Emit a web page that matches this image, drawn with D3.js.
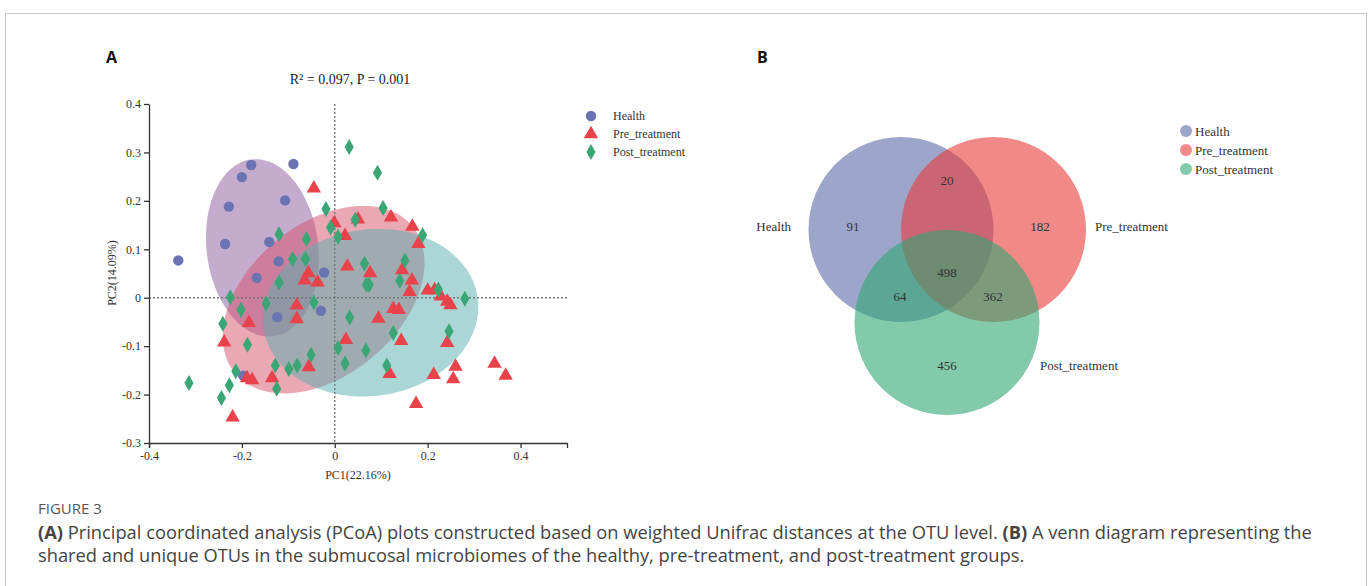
<!DOCTYPE html>
<html>
  <head>
    <meta charset="utf-8">
    <title>Figure 3</title>
    <style>
      body { margin: 0; background: #fff; }
    </style>
  </head>
  <body>
    <script src="https://d3js.org/d3.v7.min.js"></script>
    <svg id="fig" width="1372" height="586"></svg>
    <script>

      // ---- data (panel A: PCoA scores) ----
      var healthPts = [[-0.337,0.077],[-0.180,0.274],[-0.089,0.276],[-0.200,0.249],[-0.228,0.188],
        [-0.107,0.201],[-0.236,0.111],[-0.141,0.115],[-0.121,0.075],[-0.168,0.041],[-0.023,0.052],
        [-0.124,-0.040],[-0.030,-0.027],[-0.197,-0.161]];

      var prePts = [[-0.045,0.226],[-0.001,0.154],[0.022,0.128],[0.027,0.065],[-0.057,0.051],[-0.065,0.036],
        [-0.037,0.032],[0.050,0.162],[0.121,0.166],[0.167,0.147],[0.180,0.111],[0.076,0.051],[0.145,0.057],
        [0.166,0.036],[0.161,0.012],[0.200,0.015],[0.215,0.016],[0.228,0.003],[0.242,-0.008],[0.249,-0.015],
        [0.126,-0.023],[0.138,-0.025],[0.094,-0.043],[0.024,-0.087],[0.143,-0.089],[0.242,-0.093],
        [0.260,-0.142],[0.344,-0.136],[0.368,-0.161],[0.213,-0.159],[0.255,-0.168],[0.118,-0.157],
        [0.175,-0.219],[-0.082,-0.016],[-0.082,-0.044],[-0.185,-0.052],[-0.238,-0.092],[-0.056,-0.143],
        [-0.135,-0.166],[-0.189,-0.166],[-0.178,-0.170],[-0.220,-0.247]];

      var postPts = [[0.031,0.311],[-0.019,0.183],[-0.009,0.145],[0.007,0.126],[-0.120,0.131],[-0.061,0.121],
        [-0.091,0.080],[-0.063,0.080],[-0.120,0.031],[0.092,0.258],[0.104,0.185],[0.044,0.161],[0.189,0.129],
        [0.151,0.077],[0.064,0.070],[0.140,0.035],[0.068,0.027],[0.074,0.027],[0.223,0.017],[0.280,-0.002],
        [0.032,-0.041],[0.246,-0.069],[0.126,-0.073],[0.007,-0.104],[0.067,-0.109],[0.022,-0.136],
        [0.112,-0.140],[-0.225,0.001],[-0.202,-0.025],[-0.148,-0.012],[-0.045,-0.010],[-0.241,-0.054],
        [-0.188,-0.097],[-0.051,-0.118],[-0.128,-0.140],[-0.099,-0.147],[-0.081,-0.140],[-0.213,-0.152],
        [-0.314,-0.176],[-0.227,-0.181],[-0.244,-0.207],[-0.125,-0.188]];

      // confidence ellipses: centre, semi-axes (x units, y units), rotation in degrees
      var groups = ["Health", "Pre_treatment", "Post_treatment"];
      var ellCenters = [[-0.156, 0.103], [-0.024, -0.004], [0.077, -0.031]];
      var ellRadii = [[0.120, 0.184], [0.248, 0.156], [0.233, 0.172]];
      var ellAngles = [-7, -39.7, -8];

      var xTicks = [-0.4, -0.2, 0, 0.2, 0.4];
      var yTicks = [-0.3, -0.2, -0.1, 0, 0.1, 0.2, 0.3, 0.4];
      var statText = "R\u00B2 = 0.097, P = 0.001";

      // ---- data (panel B: venn counts) ----
      var vennSets = ["Health", "Pre_treatment", "Post_treatment"];
      var vennRegions = ["H", "P", "T", "HP", "HT", "PT", "HPT"];
      var vennCounts = [91, 182, 456, 20, 64, 362, 498];

      var svg = d3.select("#fig");
      var serif = "'Liberation Serif', 'Times New Roman', serif";

      // frame
      svg.append("rect").attr("x", 5.5).attr("y", 13.5).attr("width", 1361).attr("height", 620)
        .attr("fill", "none").attr("stroke", "#c8c8c8");

      // panel letters
      svg.append("text").attr("x", 106).attr("y", 63).text("A")
        .style("font", "bold 16px 'Open Sans', sans-serif").attr("fill", "#111");
      svg.append("text").attr("x", 757).attr("y", 63).text("B")
        .style("font", "bold 16px 'Open Sans', sans-serif").attr("fill", "#111");

      // ===== Panel A =====
      var x = d3.scaleLinear().domain([-0.4, 0.5]).range([149, 567]);
      var y = d3.scaleLinear().domain([-0.3, 0.4]).range([443, 104]);
      var fmt = function (d) { return d === 0 ? "0" : d.toFixed(1); };

      var pColors = ["#6b74b2", "#e8434a", "#3aa676"];
      var ellFill = ["#8c5a9e", "#d6506a", "#55afae"];

      var gA = svg.append("g");

      // ellipses
      var ellLine = d3.line();
      groups.forEach(function (g, i) {
        var cx = x(ellCenters[i][0]), cy = y(ellCenters[i][1]);
        var rx = x(ellRadii[i][0]) - x(0), ry = y(0) - y(ellRadii[i][1]);
        var a = ellAngles[i] * Math.PI / 180;
        var pts = d3.range(0, 361, 3).map(function (t) {
          var r = t * Math.PI / 180;
          var ex = rx * Math.cos(r), ey = ry * Math.sin(r);
          return [cx + ex * Math.cos(a) - ey * Math.sin(a), cy + ex * Math.sin(a) + ey * Math.cos(a)];
        });
        gA.append("path").attr("d", ellLine(pts) + "Z")
          .attr("fill", ellFill[i]).attr("fill-opacity", 0.5);
      });

      // reference lines at zero
      gA.append("line").attr("x1", x(0)).attr("x2", x(0)).attr("y1", y(0.4)).attr("y2", y(-0.3))
        .attr("stroke", "#777").attr("stroke-width", 1.4).attr("stroke-dasharray", "2,2");
      gA.append("line").attr("x1", x(-0.4)).attr("x2", x(0.5)).attr("y1", y(0)).attr("y2", y(0))
        .attr("stroke", "#777").attr("stroke-width", 1.4).attr("stroke-dasharray", "2,2");

      // points
      var symCircle = d3.symbol().type(d3.symbolCircle).size(85);
      var symTri = d3.symbol().type(d3.symbolTriangle).size(90);
      var diamond = "M0,-8L4.6,0L0,8L-4.6,0Z";

      gA.selectAll(".hp").data(healthPts).enter().append("path")
        .attr("d", symCircle).attr("fill", pColors[0])
        .attr("transform", function (d) { return "translate(" + x(d[0]) + "," + y(d[1]) + ")"; });
      gA.selectAll(".pp").data(prePts).enter().append("path")
        .attr("d", symTri).attr("fill", pColors[1])
        .attr("transform", function (d) { return "translate(" + x(d[0]) + "," + y(d[1]) + ")"; });
      gA.selectAll(".tp").data(postPts).enter().append("path")
        .attr("d", diamond).attr("fill", pColors[2])
        .attr("transform", function (d) { return "translate(" + x(d[0]) + "," + y(d[1]) + ")"; });

      // axes
      var xAxis = gA.append("g").attr("transform", "translate(0,443)")
        .call(d3.axisBottom(x).tickValues(xTicks).tickFormat(fmt).tickSize(5).tickSizeOuter(5));
      var yAxis = gA.append("g").attr("transform", "translate(149,0)")
        .call(d3.axisLeft(y).tickValues(yTicks).tickFormat(fmt).tickSize(5).tickSizeOuter(0));
      [xAxis, yAxis].forEach(function (ax) {
        ax.selectAll("path, line").attr("stroke", "#333").attr("stroke-width", 1.3);
        ax.selectAll("text").style("font", "12px " + serif).attr("fill", "#333");
      });

      gA.append("text").attr("x", 358).attr("y", 479).attr("text-anchor", "middle")
        .style("font", "12px " + serif).attr("fill", "#333").text("PC1(22.16%)");
      gA.append("text").attr("transform", "translate(116,273) rotate(-90)").attr("text-anchor", "middle")
        .style("font", "12px " + serif).attr("fill", "#333").text("PC2(14.09%)");
      gA.append("text").attr("x", 350).attr("y", 84).attr("text-anchor", "middle")
        .style("font", "14px " + serif).attr("fill", "#222").text(statText);

      // legend A
      var legA = gA.append("g");
      groups.forEach(function (g, i) {
        var ly = 116 + i * 18;
        var sym = i === 0 ? symCircle() : (i === 1 ? symTri() : diamond);
        legA.append("path").attr("d", sym).attr("fill", pColors[i])
          .attr("transform", "translate(591," + ly + ")");
        legA.append("text").attr("x", 613).attr("y", ly + 4)
          .style("font", "12px " + serif).attr("fill", "#333").text(g);
      });

      // ===== Panel B =====
      var vennCx = [901, 993.5, 947];
      var vennCy = [229.5, 229.5, 322.5];
      var vennR = 92.5;
      var vennFill = ["#5d69a8", "#e83a3a", "#2fa672"];

      var gB = svg.append("g");
      vennSets.forEach(function (s, i) {
        gB.append("circle").attr("cx", vennCx[i]).attr("cy", vennCy[i]).attr("r", vennR)
          .attr("fill", vennFill[i]).attr("fill-opacity", 0.6);
      });

      // label positions per region
      var regionPos = { H: [853, 226], P: [1040, 226], T: [947, 365], HP: [947, 180],
        HT: [900, 296], PT: [993, 296], HPT: [947, 272] };
      vennRegions.forEach(function (r, i) {
        gB.append("text").attr("x", regionPos[r][0]).attr("y", regionPos[r][1] + 4.5)
          .attr("text-anchor", "middle").style("font", "13px " + serif).attr("fill", "#333")
          .text(vennCounts[i]);
      });

      var setLabelPos = [[791, 230.5, "end"], [1095, 230.5, "start"], [1040, 369.5, "start"]];
      vennSets.forEach(function (s, i) {
        gB.append("text").attr("x", setLabelPos[i][0]).attr("y", setLabelPos[i][1])
          .attr("text-anchor", setLabelPos[i][2]).style("font", "13px " + serif).attr("fill", "#333")
          .text(s);
      });

      // legend B
      vennSets.forEach(function (s, i) {
        var ly = 131 + i * 19;
        gB.append("circle").attr("cx", 1186).attr("cy", ly).attr("r", 6)
          .attr("fill", vennFill[i]).attr("fill-opacity", 0.6);
        gB.append("text").attr("x", 1195).attr("y", ly + 4.5)
          .style("font", "13px " + serif).attr("fill", "#333").text(s);
      });

      // ===== caption =====
      var cap = svg.append("g").style("font-family", "'Open Sans', sans-serif");
      cap.append("text").attr("x", 38).attr("y", 514).style("font-size", "15px")
        .attr("fill", "#555").text("FIGURE 3");
      var l1 = cap.append("text").attr("x", 38).attr("y", 539).style("font-size", "18.3px").attr("fill", "#444");
      l1.append("tspan").style("font-weight", "bold").text("(A)");
      l1.append("tspan").text(" Principal coordinated analysis (PCoA) plots constructed based on weighted Unifrac distances at the OTU level. ");
      l1.append("tspan").style("font-weight", "bold").text("(B)");
      l1.append("tspan").text(" A venn diagram representing the");
      cap.append("text").attr("x", 38).attr("y", 562).style("font-size", "18.3px").attr("fill", "#444")
        .text("shared and unique OTUs in the submucosal microbiomes of the healthy, pre-treatment, and post-treatment groups.");
    </script>
  </body>
</html>
